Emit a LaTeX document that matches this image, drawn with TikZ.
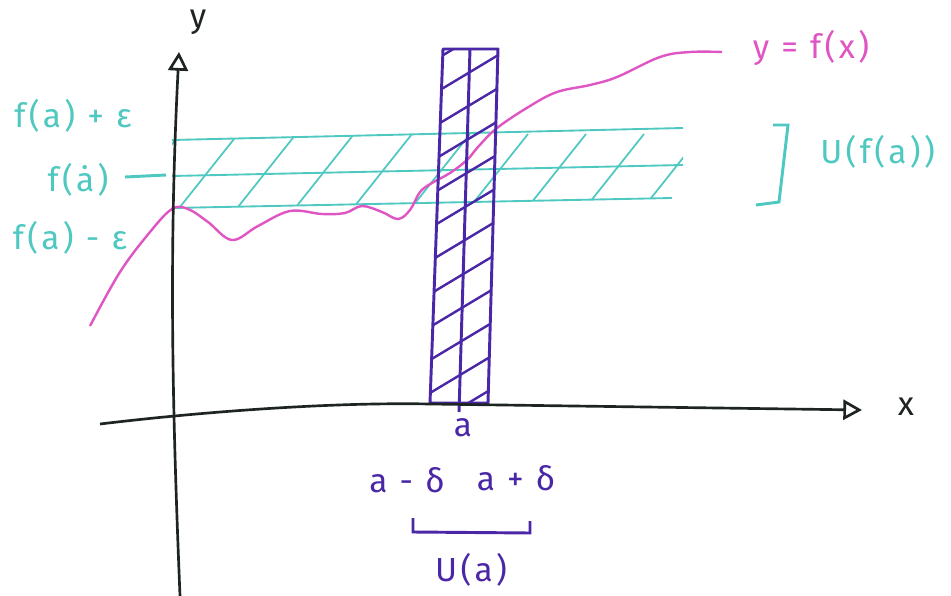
\documentclass[tikz,border=0pt]{standalone}
\usepackage{fontspec}
\setmainfont{Fira Sans}[LetterSpace=10]
\usetikzlibrary{arrows.meta}
\definecolor{cy}{HTML}{4EC8C0}
\definecolor{pu}{HTML}{4A27A6}
\definecolor{mg}{HTML}{E055C4}
\definecolor{ink}{HTML}{1E2422}
\begin{document}
\begin{tikzpicture}[x=0.75pt,y=-0.75pt,
  axisline/.style={line width=2pt,ink,-{Triangle[open,length=14pt,width=15pt,line width=2pt]}},
  lbl/.style={font=\fontsize{25}{30}\selectfont,inner sep=0pt},
  cylbl/.style={lbl,text=cy},
  pulbl/.style={lbl,text=pu},
  mglbl/.style={lbl,text=mg},
  cyline/.style={cy,line width=1.4pt},
  cyhatch/.style={cy,line width=1.3pt},
  puline/.style={pu,line width=2.2pt},
  puhatch/.style={pu,line width=1.8pt},
  curve/.style={mg,line width=1.8pt}]
\useasboundingbox (0,0) rectangle (951,596);
\fill[white] (0,0) rectangle (951,596);

% key coordinates
\coordinate (yb) at (180,596);
\coordinate (yt) at (179,52);
\coordinate (xl) at (100,424);
\coordinate (xr) at (862,410);

% cyan band
\coordinate (tl) at (172,140); \coordinate (tr) at (683,128);
\coordinate (ml) at (172,176); \coordinate (mr) at (683,165);
\coordinate (bl) at (172,208); \coordinate (br) at (672,198);
\begin{scope}
  \clip (tl) -- (tr) -- (683,198) -- (bl) -- cycle;
  \foreach \x in {118,176,...,700}
    \draw[cyhatch] (\x,212) -- ++(62,-78);
\end{scope}
\draw[cyline] (tl) -- (tr);
\draw[cyline] (ml) -- (mr);
\draw[cyline] (bl) -- (br);

% magenta curve
\draw[curve] plot[smooth,tension=0.6] coordinates {
  (90,326) (120,272) (150,232) (172,209) (188,209) (208,222) (232,240)
  (258,226) (290,211) (322,214) (345,213) (362,206) (382,212) (398,219)
  (410,210) (420,192) (432,183) (450,173) (467,160) (478,147) (497,128)
  (530,106) (557,92) (590,85) (617,77) (660,57) (690,52) (722,52)};

% purple strip
\coordinate (rtl) at (443,49); \coordinate (rtr) at (498,49);
\coordinate (rbr) at (488,403); \coordinate (rbl) at (430,403);
\coordinate (ct) at (470,49); \coordinate (cb) at (459,412);
\begin{scope}
  \clip (rtl) -- (rtr) -- (rbr) -- (rbl) -- cycle;
  \foreach \y in {66,99,...,440}
    \draw[puhatch] (425,\y) -- ++(80,-48);
\end{scope}
\draw[puline,line join=round] (rtl) -- (rtr) -- (rbr) -- (rbl) -- cycle;
\draw[puline] (ct) -- (cb);

% axes
\draw[axisline] (yb) .. controls (172,400) and (169,250) .. (yt);
\draw[axisline] (xl) .. controls (200,412) and (330,402) .. (430,404) -- (xr);

% labels
\node[lbl,text=ink] (ylab) at (198,22) {y};
\node[lbl,text=ink] (xlab) at (906,407) {x};
\node[cylbl] (fpe) at (73,116) {f(a) + ε};
\node[cylbl] (fa) at (78,180) {f(\.{a})};
\coordinate (fastart) at (125,177);
\coordinate (fadash) at (166,175);
\draw[cyline,line width=2.2pt] (fastart) -- (fadash);
\node[cylbl] (fme) at (70,238) {f(a) - ε};
\node[mglbl] (yfx) at (811,48) {y = f(x)};
\node[cylbl,anchor=west] (ufa) at (820,152) {U(f(a))};
\coordinate (b1) at (773,125); \coordinate (b2) at (788,125);
\coordinate (b3) at (779,202); \coordinate (b4) at (756,205);
\draw[cy,line width=2.2pt] (b1) -- (b2) -- (b3) -- (b4);

\node[pulbl] (alab) at (463,428) {a};
\node[pulbl] (amd) at (407,480) {a - δ};
\node[pulbl] (apd) at (516,478) {a + δ};
\coordinate (c1) at (413,518); \coordinate (c2) at (413,532);
\coordinate (c3) at (530,533); \coordinate (c4) at (530,521);
\draw[pu,line width=2.2pt] (c1) -- (c2) -- (c3) -- (c4);
\node[pulbl] (ua) at (471,570) {U(a)};
\end{tikzpicture}
\end{document}
